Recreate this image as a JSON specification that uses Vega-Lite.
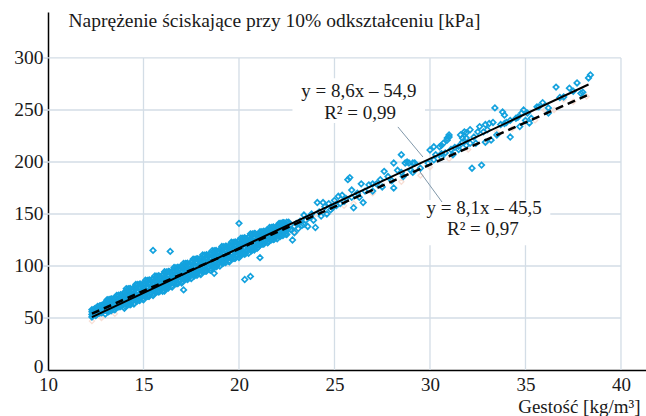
{
"$schema":"https://vega.github.io/schema/vega-lite/v6.json",
"width":598,"height":358,
"autosize":{"type":"none"},
"padding":{"left":48,"top":12,"right":0,"bottom":46},
"config":{"view":{"stroke":null},"font":"Liberation Serif"},
"datasets":{
"vgrid":[{"x":15},{"x":20},{"x":25},{"x":30},{"x":35},{"x":40}],
"hgrid":[{"y":50},{"y":100},{"y":150},{"y":200},{"y":250},{"y":300}],
"boxes":[{"x":22.8,"x2":29.74,"y":237.5,"y2":280.5},{"x":29.48,"x2":36.3,"y":120,"y2":163.5}],
"fits":[{"fit":"a","x":12.3,"y":50.9},{"fit":"a","x":38.3,"y":274.5},{"fit":"b","x":12.3,"y":54.1},{"fit":"b","x":38.3,"y":264.7}],
"ptr":[{"id":1,"x":28.32,"y":233.7},{"id":1,"x":29.63,"y":204.8},{"id":2,"x":30.63,"y":161.5},{"id":2,"x":29.48,"y":190.4}],
"labels":[{"x":26.28,"y":267.8,"t":"y = 8,6x – 54,9"},{"x":26.34,"y":247.4,"t":"R² = 0,99"},{"x":32.83,"y":155.3,"t":"y = 8,1x – 45,5"},{"x":32.77,"y":135.6,"t":"R² = 0,97"}],
"pink":[{"x":24,"y":150},{"x":25.5,"y":158},{"x":27,"y":170},{"x":28.5,"y":181},{"x":29.5,"y":187},{"x":31,"y":203},{"x":32,"y":212},{"x":33,"y":220},{"x":34.3,"y":232},{"x":35.5,"y":240},{"x":36.5,"y":250},{"x":37.5,"y":258},{"x":38.2,"y":263},{"x":23,"y":133},{"x":26,"y":160},{"x":30,"y":195},{"x":33.5,"y":229},{"x":36,"y":250},{"x":37,"y":260},{"x":12.3,"y":47},{"x":12.8,"y":50},{"x":13.5,"y":54}],
"pts":[
{"x":12.3,"y":51.0},{"x":12.3,"y":53.4},{"x":12.3,"y":56.0},{"x":12.3,"y":58.0},
{"x":12.4,"y":53.0},{"x":12.4,"y":55.6},{"x":12.4,"y":58.0},
{"x":12.5,"y":52.3},{"x":12.5,"y":54.5},{"x":12.5,"y":56.9},{"x":12.5,"y":59.1},
{"x":12.6,"y":54.3},{"x":12.6,"y":56.7},{"x":12.6,"y":59.1},{"x":12.6,"y":61.1},
{"x":12.7,"y":54.7},{"x":12.7,"y":58.9},{"x":12.7,"y":61.5},
{"x":12.8,"y":55.1},{"x":12.8,"y":57.5},{"x":12.8,"y":60.1},{"x":12.8,"y":62.1},
{"x":12.9,"y":57.1},{"x":12.9,"y":59.7},{"x":12.9,"y":62.1},
{"x":13.0,"y":53.8},{"x":13.0,"y":57.4},{"x":13.0,"y":61.3},{"x":13.0,"y":64.9},
{"x":13.1,"y":56.5},{"x":13.1,"y":60.4},{"x":13.1,"y":64.4},{"x":13.1,"y":67.6},
{"x":13.2,"y":56.7},{"x":13.2,"y":63.5},{"x":13.2,"y":67.8},
{"x":13.3,"y":56.8},{"x":13.3,"y":60.7},{"x":13.3,"y":65.0},{"x":13.3,"y":68.2},
{"x":13.4,"y":59.6},{"x":13.4,"y":63.8},{"x":13.4,"y":67.7},
{"x":13.5,"y":57.9},{"x":13.5,"y":61.5},{"x":13.5,"y":65.4},{"x":13.5,"y":69.0},
{"x":13.6,"y":60.6},{"x":13.6,"y":64.5},{"x":13.6,"y":68.5},{"x":13.6,"y":71.7},
{"x":13.7,"y":60.8},{"x":13.7,"y":67.6},{"x":13.7,"y":71.9},
{"x":13.8,"y":60.9},{"x":13.8,"y":64.8},{"x":13.8,"y":69.1},{"x":13.8,"y":72.3},
{"x":13.9,"y":63.7},{"x":13.9,"y":67.9},{"x":13.9,"y":71.8},
{"x":14.0,"y":59.4},{"x":14.0,"y":64.3},{"x":14.0,"y":69.8},{"x":14.0,"y":74.7},
{"x":14.1,"y":62.9},{"x":14.1,"y":68.3},{"x":14.1,"y":73.7},{"x":14.1,"y":78.2},
{"x":14.2,"y":62.8},{"x":14.2,"y":72.3},{"x":14.2,"y":78.1},
{"x":14.3,"y":62.7},{"x":14.3,"y":68.1},{"x":14.3,"y":74.0},{"x":14.3,"y":78.5},
{"x":14.4,"y":66.2},{"x":14.4,"y":72.1},{"x":14.4,"y":77.5},
{"x":14.5,"y":63.5},{"x":14.5,"y":68.4},{"x":14.5,"y":73.9},{"x":14.5,"y":78.8},
{"x":14.6,"y":67.0},{"x":14.6,"y":72.4},{"x":14.6,"y":77.8},{"x":14.6,"y":82.3},
{"x":14.7,"y":66.9},{"x":14.7,"y":76.4},{"x":14.7,"y":82.2},
{"x":14.8,"y":66.8},{"x":14.8,"y":72.2},{"x":14.8,"y":78.1},{"x":14.8,"y":82.6},
{"x":14.9,"y":70.3},{"x":14.9,"y":76.2},{"x":14.9,"y":81.6},
{"x":15.0,"y":67.5},{"x":15.0,"y":72.4},{"x":15.0,"y":77.9},{"x":15.0,"y":82.8},
{"x":15.1,"y":71.0},{"x":15.1,"y":76.4},{"x":15.1,"y":81.8},{"x":15.1,"y":86.3},
{"x":15.2,"y":70.9},{"x":15.2,"y":80.4},{"x":15.2,"y":86.2},
{"x":15.3,"y":70.8},{"x":15.3,"y":76.2},{"x":15.3,"y":82.1},{"x":15.3,"y":86.6},
{"x":15.4,"y":74.3},{"x":15.4,"y":80.2},{"x":15.4,"y":85.6},
{"x":15.5,"y":71.6},{"x":15.5,"y":76.5},{"x":15.5,"y":82.0},{"x":15.5,"y":86.9},
{"x":15.6,"y":75.1},{"x":15.6,"y":80.5},{"x":15.6,"y":85.9},{"x":15.6,"y":90.4},
{"x":15.7,"y":75.0},{"x":15.7,"y":84.5},{"x":15.7,"y":90.3},
{"x":15.8,"y":74.9},{"x":15.8,"y":80.3},{"x":15.8,"y":86.2},{"x":15.8,"y":90.7},
{"x":15.9,"y":78.4},{"x":15.9,"y":84.3},{"x":15.9,"y":89.7},
{"x":16.0,"y":75.6},{"x":16.0,"y":80.5},{"x":16.0,"y":86.0},{"x":16.0,"y":90.9},
{"x":16.1,"y":79.1},{"x":16.1,"y":84.5},{"x":16.1,"y":89.9},{"x":16.1,"y":94.4},
{"x":16.2,"y":79.0},{"x":16.2,"y":88.5},{"x":16.2,"y":94.3},
{"x":16.3,"y":78.9},{"x":16.3,"y":84.3},{"x":16.3,"y":90.2},{"x":16.3,"y":94.7},
{"x":16.4,"y":82.4},{"x":16.4,"y":88.3},{"x":16.4,"y":93.7},
{"x":16.5,"y":79.7},{"x":16.5,"y":84.6},{"x":16.5,"y":90.1},{"x":16.5,"y":95.0},
{"x":16.6,"y":83.2},{"x":16.6,"y":88.6},{"x":16.6,"y":94.0},{"x":16.6,"y":98.5},
{"x":16.7,"y":83.1},{"x":16.7,"y":92.6},{"x":16.7,"y":98.4},
{"x":16.8,"y":83.0},{"x":16.8,"y":88.4},{"x":16.8,"y":94.3},{"x":16.8,"y":98.8},
{"x":16.9,"y":86.5},{"x":16.9,"y":92.4},{"x":16.9,"y":97.8},
{"x":17.0,"y":83.7},{"x":17.0,"y":88.6},{"x":17.0,"y":94.1},{"x":17.0,"y":99.0},
{"x":17.1,"y":87.2},{"x":17.1,"y":92.6},{"x":17.1,"y":98.0},{"x":17.1,"y":102.5},
{"x":17.2,"y":87.1},{"x":17.2,"y":96.6},{"x":17.2,"y":102.4},
{"x":17.3,"y":87.0},{"x":17.3,"y":92.4},{"x":17.3,"y":98.3},{"x":17.3,"y":102.8},
{"x":17.4,"y":90.5},{"x":17.4,"y":96.4},{"x":17.4,"y":101.8},
{"x":17.5,"y":87.8},{"x":17.5,"y":92.7},{"x":17.5,"y":98.2},{"x":17.5,"y":103.1},
{"x":17.6,"y":91.3},{"x":17.6,"y":96.7},{"x":17.6,"y":102.1},{"x":17.6,"y":106.6},
{"x":17.7,"y":91.2},{"x":17.7,"y":100.7},{"x":17.7,"y":106.5},
{"x":17.8,"y":91.1},{"x":17.8,"y":96.5},{"x":17.8,"y":102.4},{"x":17.8,"y":106.9},
{"x":17.9,"y":94.6},{"x":17.9,"y":100.5},{"x":17.9,"y":105.9},
{"x":18.0,"y":91.8},{"x":18.0,"y":96.7},{"x":18.0,"y":102.2},{"x":18.0,"y":107.1},
{"x":18.1,"y":95.3},{"x":18.1,"y":100.7},{"x":18.1,"y":106.1},{"x":18.1,"y":110.6},
{"x":18.2,"y":95.2},{"x":18.2,"y":104.7},{"x":18.2,"y":110.5},
{"x":18.3,"y":95.1},{"x":18.3,"y":100.5},{"x":18.3,"y":106.4},{"x":18.3,"y":110.9},
{"x":18.4,"y":98.6},{"x":18.4,"y":104.5},{"x":18.4,"y":109.9},
{"x":18.5,"y":95.9},{"x":18.5,"y":100.8},{"x":18.5,"y":106.3},{"x":18.5,"y":111.2},
{"x":18.6,"y":99.4},{"x":18.6,"y":104.8},{"x":18.6,"y":110.2},{"x":18.6,"y":114.7},
{"x":18.7,"y":99.3},{"x":18.7,"y":108.8},{"x":18.7,"y":114.6},
{"x":18.8,"y":99.2},{"x":18.8,"y":104.6},{"x":18.8,"y":110.5},{"x":18.8,"y":115.0},
{"x":18.9,"y":102.7},{"x":18.9,"y":108.6},{"x":18.9,"y":114.0},
{"x":19.0,"y":99.9},{"x":19.0,"y":104.8},{"x":19.0,"y":110.3},{"x":19.0,"y":115.2},
{"x":19.1,"y":103.4},{"x":19.1,"y":108.8},{"x":19.1,"y":114.2},{"x":19.1,"y":118.7},
{"x":19.2,"y":103.3},{"x":19.2,"y":112.8},{"x":19.2,"y":118.6},
{"x":19.3,"y":103.2},{"x":19.3,"y":108.6},{"x":19.3,"y":114.5},{"x":19.3,"y":119.0},
{"x":19.4,"y":106.7},{"x":19.4,"y":112.6},{"x":19.4,"y":118.0},
{"x":19.5,"y":104.0},{"x":19.5,"y":108.9},{"x":19.5,"y":114.4},{"x":19.5,"y":119.3},
{"x":19.6,"y":107.5},{"x":19.6,"y":112.9},{"x":19.6,"y":118.3},{"x":19.6,"y":122.8},
{"x":19.7,"y":107.4},{"x":19.7,"y":116.9},{"x":19.7,"y":122.7},
{"x":19.8,"y":107.3},{"x":19.8,"y":112.7},{"x":19.8,"y":118.6},{"x":19.8,"y":123.1},
{"x":19.9,"y":110.8},{"x":19.9,"y":116.7},{"x":19.9,"y":122.1},
{"x":20.0,"y":108.0},{"x":20.0,"y":112.9},{"x":20.0,"y":118.4},{"x":20.0,"y":123.3},
{"x":20.1,"y":111.5},{"x":20.1,"y":116.9},{"x":20.1,"y":122.3},{"x":20.1,"y":126.8},
{"x":20.2,"y":111.4},{"x":20.2,"y":120.9},{"x":20.2,"y":126.7},
{"x":20.3,"y":111.3},{"x":20.3,"y":116.7},{"x":20.3,"y":122.6},{"x":20.3,"y":127.1},
{"x":20.4,"y":114.8},{"x":20.4,"y":120.7},{"x":20.4,"y":126.1},
{"x":20.5,"y":112.1},{"x":20.5,"y":117.0},{"x":20.5,"y":122.5},{"x":20.5,"y":127.4},
{"x":20.6,"y":115.6},{"x":20.6,"y":121.0},{"x":20.6,"y":126.4},{"x":20.6,"y":130.9},
{"x":20.7,"y":115.5},{"x":20.7,"y":125.0},{"x":20.7,"y":130.8},
{"x":20.8,"y":115.4},{"x":20.8,"y":120.8},{"x":20.8,"y":126.7},{"x":20.8,"y":131.2},
{"x":20.9,"y":118.9},{"x":20.9,"y":124.8},{"x":20.9,"y":130.2},
{"x":21.0,"y":118.1},{"x":21.0,"y":121.9},{"x":21.0,"y":126.2},{"x":21.0,"y":130.0},
{"x":21.1,"y":121.0},{"x":21.1,"y":125.2},{"x":21.1,"y":129.4},{"x":21.1,"y":132.9},
{"x":21.2,"y":121.1},{"x":21.2,"y":128.5},{"x":21.2,"y":133.0},
{"x":21.3,"y":121.2},{"x":21.3,"y":125.4},{"x":21.3,"y":130.0},{"x":21.3,"y":133.5},
{"x":21.4,"y":124.1},{"x":21.4,"y":128.7},{"x":21.4,"y":132.9},
{"x":21.5,"y":122.2},{"x":21.5,"y":126.0},{"x":21.5,"y":130.3},{"x":21.5,"y":134.1},
{"x":21.6,"y":125.1},{"x":21.6,"y":129.3},{"x":21.6,"y":133.5},{"x":21.6,"y":137.0},
{"x":21.7,"y":125.2},{"x":21.7,"y":132.6},{"x":21.7,"y":137.1},
{"x":21.8,"y":125.3},{"x":21.8,"y":129.5},{"x":21.8,"y":134.1},{"x":21.8,"y":137.6},
{"x":21.9,"y":128.2},{"x":21.9,"y":132.8},{"x":21.9,"y":137.0},
{"x":22.0,"y":126.2},{"x":22.0,"y":130.0},{"x":22.0,"y":134.3},{"x":22.0,"y":138.1},
{"x":22.1,"y":129.1},{"x":22.1,"y":133.3},{"x":22.1,"y":137.5},{"x":22.1,"y":141.0},
{"x":22.2,"y":129.2},{"x":22.2,"y":136.6},{"x":22.2,"y":141.1},
{"x":22.3,"y":129.3},{"x":22.3,"y":133.5},{"x":22.3,"y":138.1},{"x":22.3,"y":141.6},
{"x":22.4,"y":132.2},{"x":22.4,"y":136.8},{"x":22.4,"y":141.0},
{"x":22.5,"y":130.3},{"x":22.5,"y":134.1},{"x":22.5,"y":138.4},{"x":22.5,"y":142.2},
{"x":12.35,"y":52.8},{"x":12.35,"y":57.0},{"x":12.45,"y":55.0},{"x":12.45,"y":59.0},{"x":12.55,"y":53.3},{"x":12.55,"y":57.3},{"x":12.65,"y":55.3},{"x":12.65,"y":59.5},{"x":12.75,"y":57.5},{"x":12.75,"y":61.5},{"x":12.85,"y":55.7},{"x":12.85,"y":59.7},{"x":12.95,"y":57.7},{"x":12.95,"y":61.9},
{"x":13.05,"y":59.4},{"x":13.05,"y":65.9},{"x":13.15,"y":56.0},{"x":13.15,"y":62.5},{"x":13.25,"y":58.7},{"x":13.25,"y":65.6},{"x":13.35,"y":61.8},{"x":13.35,"y":68.3},{"x":13.45,"y":58.4},{"x":13.45,"y":64.9},{"x":13.55,"y":61.2},{"x":13.55,"y":68.1},{"x":13.65,"y":64.3},{"x":13.65,"y":70.8},{"x":13.75,"y":60.9},{"x":13.75,"y":67.4},{"x":13.85,"y":63.6},{"x":13.85,"y":70.5},{"x":13.95,"y":66.7},{"x":13.95,"y":73.2},
{"x":14.05,"y":61.1},{"x":14.05,"y":70.2},{"x":14.15,"y":64.6},{"x":14.15,"y":74.1},{"x":14.25,"y":68.6},{"x":14.25,"y":77.6},{"x":14.35,"y":63.5},{"x":14.35,"y":72.6},{"x":14.45,"y":67.0},{"x":14.45,"y":76.5},{"x":14.55,"y":71.1},{"x":14.55,"y":80.1},{"x":14.65,"y":66.0},{"x":14.65,"y":75.1},{"x":14.75,"y":69.5},{"x":14.75,"y":79.0},{"x":14.85,"y":73.5},{"x":14.85,"y":82.5},{"x":14.95,"y":68.4},{"x":14.95,"y":77.5},
{"x":15.05,"y":71.9},{"x":15.05,"y":81.4},{"x":15.15,"y":75.9},{"x":15.15,"y":84.9},{"x":15.25,"y":70.8},{"x":15.25,"y":79.9},{"x":15.35,"y":74.3},{"x":15.35,"y":83.8},{"x":15.45,"y":78.3},{"x":15.45,"y":87.3},{"x":15.55,"y":73.3},{"x":15.55,"y":82.4},{"x":15.65,"y":76.8},{"x":15.65,"y":86.3},{"x":15.75,"y":80.8},{"x":15.75,"y":89.8},{"x":15.85,"y":75.7},{"x":15.85,"y":84.8},{"x":15.95,"y":79.2},{"x":15.95,"y":88.7},
{"x":16.05,"y":83.2},{"x":16.05,"y":92.2},{"x":16.15,"y":78.1},{"x":16.15,"y":87.2},{"x":16.25,"y":81.6},{"x":16.25,"y":91.1},{"x":16.35,"y":85.6},{"x":16.35,"y":94.6},{"x":16.45,"y":80.5},{"x":16.45,"y":89.6},{"x":16.55,"y":84.1},{"x":16.55,"y":93.6},{"x":16.65,"y":88.1},{"x":16.65,"y":97.1},{"x":16.75,"y":83.0},{"x":16.75,"y":92.1},{"x":16.85,"y":86.5},{"x":16.85,"y":96.0},{"x":16.95,"y":90.5},{"x":16.95,"y":99.5},
{"x":17.05,"y":85.4},{"x":17.05,"y":94.5},{"x":17.15,"y":88.9},{"x":17.15,"y":98.4},{"x":17.25,"y":92.9},{"x":17.25,"y":101.9},{"x":17.35,"y":87.8},{"x":17.35,"y":96.9},{"x":17.45,"y":91.3},{"x":17.45,"y":100.8},{"x":17.55,"y":95.4},{"x":17.55,"y":104.4},{"x":17.65,"y":90.3},{"x":17.65,"y":99.4},{"x":17.75,"y":93.8},{"x":17.75,"y":103.3},{"x":17.85,"y":97.8},{"x":17.85,"y":106.8},{"x":17.95,"y":92.7},{"x":17.95,"y":101.8},
{"x":18.05,"y":96.2},{"x":18.05,"y":105.7},{"x":18.15,"y":100.2},{"x":18.15,"y":109.2},{"x":18.25,"y":95.1},{"x":18.25,"y":104.2},{"x":18.35,"y":98.6},{"x":18.35,"y":108.1},{"x":18.45,"y":102.6},{"x":18.45,"y":111.6},{"x":18.55,"y":97.6},{"x":18.55,"y":106.7},{"x":18.65,"y":101.1},{"x":18.65,"y":110.6},{"x":18.75,"y":105.1},{"x":18.75,"y":114.1},{"x":18.85,"y":100.0},{"x":18.85,"y":109.1},{"x":18.95,"y":103.5},{"x":18.95,"y":113.0},
{"x":19.05,"y":107.5},{"x":19.05,"y":116.5},{"x":19.15,"y":102.4},{"x":19.15,"y":111.5},{"x":19.25,"y":105.9},{"x":19.25,"y":115.4},{"x":19.35,"y":109.9},{"x":19.35,"y":118.9},{"x":19.45,"y":104.8},{"x":19.45,"y":113.9},{"x":19.55,"y":108.4},{"x":19.55,"y":117.9},{"x":19.65,"y":112.4},{"x":19.65,"y":121.4},{"x":19.75,"y":107.3},{"x":19.75,"y":116.4},{"x":19.85,"y":110.8},{"x":19.85,"y":120.3},{"x":19.95,"y":114.8},{"x":19.95,"y":123.8},
{"x":20.05,"y":109.7},{"x":20.05,"y":118.8},{"x":20.15,"y":113.2},{"x":20.15,"y":122.7},{"x":20.25,"y":117.2},{"x":20.25,"y":126.2},{"x":20.35,"y":112.1},{"x":20.35,"y":121.2},{"x":20.45,"y":115.6},{"x":20.45,"y":125.1},{"x":20.55,"y":119.7},{"x":20.55,"y":128.7},{"x":20.65,"y":114.6},{"x":20.65,"y":123.7},{"x":20.75,"y":118.1},{"x":20.75,"y":127.6},{"x":20.85,"y":122.1},{"x":20.85,"y":131.1},{"x":20.95,"y":117.0},{"x":20.95,"y":126.1},
{"x":21.05,"y":121.6},{"x":21.05,"y":129.0},{"x":21.15,"y":124.9},{"x":21.15,"y":131.9},{"x":21.25,"y":121.1},{"x":21.25,"y":128.2},{"x":21.35,"y":124.0},{"x":21.35,"y":131.4},{"x":21.45,"y":127.3},{"x":21.45,"y":134.3},{"x":21.55,"y":123.6},{"x":21.55,"y":130.7},{"x":21.65,"y":126.5},{"x":21.65,"y":133.9},{"x":21.75,"y":129.8},{"x":21.75,"y":136.8},{"x":21.85,"y":126.0},{"x":21.85,"y":133.1},{"x":21.95,"y":128.9},{"x":21.95,"y":136.3},
{"x":22.05,"y":132.2},{"x":22.05,"y":139.2},{"x":22.15,"y":128.4},{"x":22.15,"y":135.5},{"x":22.25,"y":131.3},{"x":22.25,"y":138.7},{"x":22.35,"y":134.6},{"x":22.35,"y":141.6},{"x":22.45,"y":130.8},{"x":22.45,"y":137.9},
{"x":15.5,"y":115},{"x":16.4,"y":114},{"x":20.0,"y":141},{"x":20.3,"y":87},{"x":20.6,"y":90},{"x":18.7,"y":93},{"x":17.1,"y":77},{"x":16.1,"y":76},{"x":21.1,"y":108},
{"x":22.1,"y":138},{"x":22.6,"y":142},{"x":22.7,"y":135},{"x":22.8,"y":125},{"x":22.9,"y":138},{"x":23.0,"y":141},{"x":23.2,"y":143},{"x":23.3,"y":139},{"x":23.4,"y":149},{"x":23.5,"y":144},{"x":23.6,"y":138},{"x":23.7,"y":147},{"x":23.8,"y":150},{"x":24.0,"y":137},{"x":24.1,"y":161},{"x":24.2,"y":152},{"x":24.4,"y":161},{"x":24.5,"y":157},{"x":24.7,"y":160},{"x":24.8,"y":154},{"x":25.0,"y":163},{"x":25.2,"y":167},{"x":25.3,"y":160},{"x":25.4,"y":168},{"x":25.6,"y":165},{"x":25.7,"y":183},{"x":25.8,"y":185},{"x":25.9,"y":173},{"x":26.0,"y":156},{"x":26.2,"y":170},{"x":26.4,"y":179},{"x":26.5,"y":161},{"x":26.8,"y":178},{"x":27.0,"y":179},{"x":27.2,"y":179},{"x":27.4,"y":183},{"x":27.6,"y":191},{"x":27.8,"y":186},{"x":28.1,"y":199},{"x":28.1,"y":175},{"x":28.3,"y":192},{"x":28.5,"y":207},{"x":28.5,"y":190},{"x":28.7,"y":199},{"x":28.8,"y":200},{"x":28.9,"y":199},{"x":29.0,"y":192},{"x":29.1,"y":199},{"x":29.1,"y":190},{"x":29.2,"y":199},{"x":29.9,"y":199},{"x":30.0,"y":211.5},{"x":30.2,"y":202},{"x":30.2,"y":214.6},{"x":30.5,"y":214.6},{"x":30.6,"y":204.8},{"x":30.6,"y":216},{"x":30.7,"y":218},{"x":30.8,"y":208.7},{"x":30.9,"y":221},{"x":30.9,"y":223},{"x":31.0,"y":224},{"x":31.0,"y":226},{"x":31.2,"y":207},{"x":31.3,"y":214},{"x":31.5,"y":212},{"x":31.5,"y":215},{"x":31.6,"y":226},{"x":31.7,"y":219},{"x":31.7,"y":223},{"x":31.8,"y":229},{"x":31.9,"y":223},{"x":31.9,"y":228},{"x":31.9,"y":216},{"x":32.1,"y":218},{"x":32.1,"y":231},{"x":32.2,"y":194},{"x":32.3,"y":224},{"x":32.4,"y":218},{"x":32.5,"y":229},{"x":32.6,"y":234},{"x":32.7,"y":197},{"x":32.8,"y":229},{"x":32.9,"y":236},{"x":32.9,"y":219},{"x":33.0,"y":231},{"x":33.1,"y":237},{"x":33.2,"y":221},{"x":33.3,"y":238},{"x":33.4,"y":252},{"x":33.5,"y":226},{"x":33.7,"y":236},{"x":33.8,"y":248},{"x":33.9,"y":245},{"x":33.9,"y":237},{"x":34.0,"y":238},{"x":34.2,"y":240},{"x":34.2,"y":224},{"x":34.5,"y":242},{"x":34.6,"y":243},{"x":34.7,"y":234},{"x":34.8,"y":247},{"x":34.9,"y":250},{"x":35.1,"y":247},{"x":35.2,"y":237.5},{"x":35.3,"y":242},{"x":35.6,"y":253},{"x":35.7,"y":253},{"x":35.9,"y":257},{"x":36.2,"y":247},{"x":36.2,"y":252},{"x":36.6,"y":272},{"x":37.0,"y":262.5},{"x":37.3,"y":271},{"x":37.7,"y":276},{"x":37.9,"y":266},{"x":38.0,"y":267},{"x":38.3,"y":280.8},{"x":38.4,"y":283.7},
{"x":22.6,"y":136},{"x":22.9,"y":132},{"x":23.1,"y":136},{"x":23.4,"y":140},{"x":23.9,"y":144},{"x":24.3,"y":148},{"x":24.6,"y":150},{"x":24.9,"y":156},{"x":25.1,"y":158},{"x":25.5,"y":162},{"x":25.9,"y":166},{"x":26.3,"y":166},{"x":26.6,"y":172},{"x":27.0,"y":172},{"x":27.5,"y":176},{"x":28.0,"y":182},{"x":28.6,"y":186},{"x":29.5,"y":194},{"x":30.3,"y":207},{"x":30.6,"y":208},{"x":31.1,"y":212},{"x":35.0,"y":240},{"x":36.8,"y":262},{"x":37.5,"y":268}
]},
"layer":[
{"data":{"name":"vgrid"},"mark":{"type":"rule","color":"#d3dde6","strokeWidth":1.3},
 "encoding":{
  "x":{"field":"x","type":"quantitative","scale":{"domain":[10,41.31],"nice":false,"zero":false},
   "axis":{"values":[10,15,20,25,30,35,40],"grid":false,"ticks":false,"domainColor":"#000000","domainWidth":1.5,"labelFont":"Liberation Serif","labelFontSize":19,"labelColor":"#1a1a1a","labelPadding":5,"labelFlush":false,
    "title":"Gestość [kg/m³]","titleFont":"Liberation Serif","titleFontSize":19,"titleFontWeight":"normal","titleColor":"#1a1a1a","titleAlign":"right","titleAnchor":null,"titleX":592,"titleY":36.5,"titleBaseline":"middle"}},
  "y":{"datum":0,"type":"quantitative","scale":{"domain":[0,344.2],"nice":false,"zero":false},
   "axis":{"values":[0,50,100,150,200,250,300],"grid":false,"tickSize":4,"tickColor":"#d3dde6","domainColor":"#000000","domainWidth":1.5,"labelFont":"Liberation Serif","labelFontSize":19.5,"labelColor":"#1a1a1a","labelPadding":1,"labelFlush":false,
    "labelOffset":{"condition":{"test":"datum.value === 0","value":-4},"value":0},
    "title":"Naprężenie ściskające przy 10% odkształceniu [kPa]","titleFont":"Liberation Serif","titleFontSize":19.5,"titleFontWeight":"normal","titleColor":"#1a1a1a","titleAngle":0,"titleAlign":"left","titleAnchor":null,"titleX":20,"titleY":8,"titleBaseline":"middle"}},
  "y2":{"datum":300}}},
{"data":{"name":"hgrid"},"mark":{"type":"rule","color":"#d3dde6","strokeWidth":1.3},
 "encoding":{"y":{"field":"y","type":"quantitative"},"x":{"datum":9.75,"type":"quantitative"},"x2":{"datum":40}}},
{"data":{"name":"boxes"},"mark":{"type":"rect","color":"#ffffff"},
 "encoding":{"x":{"field":"x","type":"quantitative"},"x2":{"field":"x2"},"y":{"field":"y","type":"quantitative"},"y2":{"field":"y2"}}},
{"data":{"name":"pink"},"mark":{"type":"point","shape":"diamond","filled":false,"stroke":"#f6d2c4","strokeWidth":1.3,"size":26},
 "encoding":{"x":{"field":"x","type":"quantitative"},"y":{"field":"y","type":"quantitative"}}},
{"data":{"name":"pts"},"mark":{"type":"point","shape":"diamond","filled":false,"stroke":"#14a2de","strokeWidth":1.7,"size":30,"opacity":1},
 "encoding":{"x":{"field":"x","type":"quantitative"},"y":{"field":"y","type":"quantitative"}}},
{"data":{"name":"fits"},"transform":[{"filter":"datum.fit == 'a'"}],"mark":{"type":"line","color":"#000000","strokeWidth":2},
 "encoding":{"x":{"field":"x","type":"quantitative"},"y":{"field":"y","type":"quantitative"}}},
{"data":{"name":"fits"},"transform":[{"filter":"datum.fit == 'b'"}],"mark":{"type":"line","color":"#000000","strokeWidth":2.5,"strokeDash":[8,5]},
 "encoding":{"x":{"field":"x","type":"quantitative"},"y":{"field":"y","type":"quantitative"}}},
{"data":{"name":"ptr"},"mark":{"type":"line","color":"#8198aa","strokeWidth":1},
 "encoding":{"x":{"field":"x","type":"quantitative"},"y":{"field":"y","type":"quantitative"},"detail":{"field":"id"}}},
{"mark":{"type":"point","shape":"triangle-up","filled":true,"color":"#6f8597","size":28,"angle":140,"opacity":1},
 "encoding":{"x":{"datum":29.63,"type":"quantitative"},"y":{"datum":204.8,"type":"quantitative"}}},
{"mark":{"type":"point","shape":"triangle-up","filled":true,"color":"#6f8597","size":28,"angle":324,"opacity":1},
 "encoding":{"x":{"datum":29.48,"type":"quantitative"},"y":{"datum":190.4,"type":"quantitative"}}},
{"data":{"name":"labels"},"mark":{"type":"text","font":"Liberation Serif","fontSize":19,"color":"#1a1a1a","align":"center","baseline":"middle"},
 "encoding":{"x":{"field":"x","type":"quantitative"},"y":{"field":"y","type":"quantitative"},"text":{"field":"t"}}},
{"mark":{"type":"point","shape":"M0,-1L0.42,0L-0.42,0Z","filled":true,"color":"#000000","size":1024,"opacity":1},
 "encoding":{"x":{"datum":10,"type":"quantitative"},"y":{"datum":328.8,"type":"quantitative"}}},
{"mark":{"type":"point","shape":"M1,0L0,0.42L0,-0.42Z","filled":true,"color":"#000000","size":1024,"opacity":1},
 "encoding":{"x":{"datum":40.47,"type":"quantitative"},"y":{"datum":0,"type":"quantitative"}}}
]
}
